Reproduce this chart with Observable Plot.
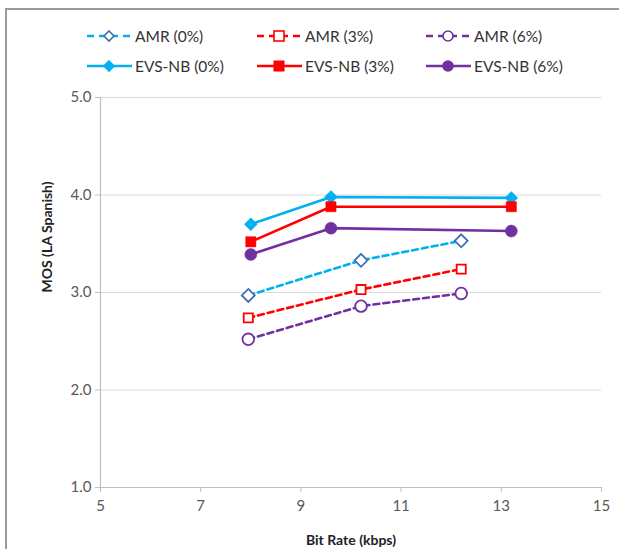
<!DOCTYPE html>
<html><head><meta charset="utf-8">
<script src="https://cdn.jsdelivr.net/npm/d3@7"></script>
<script src="https://cdn.jsdelivr.net/npm/@observablehq/plot@0.6"></script>
<style>
html,body{margin:0;padding:0;background:#fff;}
body{width:619px;height:549px;position:relative;overflow:hidden;font-family:Lato,"Open Sans",sans-serif;}
#frame{position:absolute;left:5px;top:8px;width:700px;height:700px;border-top:2px solid #9a9a9a;border-left:2px solid #9a9a9a;pointer-events:none;}
#legend{position:relative;height:85px;}
.item{position:absolute;display:flex;align-items:center;font-size:15.5px;color:#333;white-space:nowrap;}
.item svg{margin-right:2px;flex:none;}
#chart{display:block;}
</style></head>
<body>
<div id="frame"></div>
<div id="legend"></div>
<div id="chart"></div>
<script>
const amrRates = [7.95, 10.2, 12.2];
const evsRates = [8.0, 9.6, 13.2];
const amr0 = [2.97, 3.33, 3.53];
const amr3 = [2.74, 3.03, 3.24];
const amr6 = [2.52, 2.86, 2.99];
const evs0 = [3.70, 3.98, 3.97];
const evs3 = [3.52, 3.88, 3.88];
const evs6 = [3.39, 3.66, 3.63];
const seriesNames = ["AMR (0%)", "AMR (3%)", "AMR (6%)", "EVS-NB (0%)", "EVS-NB (3%)", "EVS-NB (6%)"];
const xTicks = [5, 7, 9, 11, 13, 15];
const yTicks = [1, 2, 3, 4, 5];

const blue = "#00b0f0", red = "#ff0000", purple = "#7030a0", dblue = "#3d6fb6";
const styles = [
  {rates: amrRates, vals: amr0, color: blue, mstroke: dblue, fill: "white", symbol: "diamond2", r: 5.8, dash: "6,4"},
  {rates: amrRates, vals: amr3, color: red, mstroke: red, fill: "white", symbol: "square2", r: 5.8, dash: "6,4"},
  {rates: amrRates, vals: amr6, color: purple, mstroke: purple, fill: "white", symbol: "circle", r: 5.8, dash: "6,4"},
  {rates: evsRates, vals: evs0, color: blue, mstroke: blue, fill: blue, symbol: "diamond2", r: 5.8, dash: null},
  {rates: evsRates, vals: evs3, color: red, mstroke: red, fill: red, symbol: "square2", r: 6.5, dash: null},
  {rates: evsRates, vals: evs6, color: purple, mstroke: purple, fill: purple, symbol: "circle", r: 6.0, dash: null}
];

// Legend (HTML)
const legend = document.getElementById("legend");
const legPos = [[86,25],[256,25],[425,25],[86,55],[256,55],[425,55]];
seriesNames.forEach((name, i) => {
  const s = styles[i];
  const div = document.createElement("div");
  div.className = "item";
  div.style.left = legPos[i][0] + "px";
  div.style.top = legPos[i][1] + "px";
  let marker;
  if (s.symbol === "circle") marker = `<circle cx="23" cy="11" r="5" fill="${s.fill}" stroke="${s.mstroke}" stroke-width="1.6"/>`;
  else if (s.symbol === "square2") marker = s.dash ? `<rect x="18" y="6" width="10" height="10" fill="white" stroke="${red}" stroke-width="1.6"/>` : `<rect x="17.5" y="5.5" width="11" height="11" fill="${red}"/>`;
  else marker = `<path d="M23,6 L28,11 L23,16 L18,11 Z" fill="${s.fill}" stroke="${s.mstroke}" stroke-width="1.6"/>`;
  div.innerHTML = `<svg width="47" height="22"><line x1="1" y1="11" x2="46" y2="11" stroke="${s.color}" stroke-width="2.5" ${s.dash ? 'stroke-dasharray="7,5"' : ''}/>${marker}</svg><span>${name}</span>`;
  legend.appendChild(div);
});

// Data table
const rows = [];
styles.forEach((s, i) => s.vals.forEach((v, j) => rows.push({series: seriesNames[i], idx: i, rate: s.rates[j], mos: v})));

const marks = [
  Plot.ruleY(yTicks, {stroke: "#d9d9d9", strokeWidth: 1.2}),
  Plot.ruleX([5], {stroke: "#bfbfbf", strokeWidth: 1.2}),
  Plot.ruleY([1], {stroke: "#bfbfbf", strokeWidth: 1.2}),
  Plot.axisX({ticks: xTicks, tickFormat: d => String(d), tickSize: 5, stroke: "#bfbfbf", tickPadding: 8, fontSize: 15, fill: "#595959", label: null}),
  Plot.axisY({ticks: yTicks, tickFormat: d => d.toFixed(1), tickSize: 5, stroke: "#bfbfbf", tickPadding: 4, fontSize: 15, fill: "#595959", label: null}),
  Plot.text(["Bit Rate (kbps)"], {frameAnchor: "bottom", dy: 57, fontWeight: "bold", fontSize: 14, fill: "#222"}),
  Plot.text(["MOS (LA Spanish)"], {frameAnchor: "left", dx: -53, rotate: -90, fontWeight: "bold", fontSize: 14, fill: "#222"})
];
styles.forEach((s, i) => {
  const data = rows.filter(d => d.idx === i);
  marks.push(Plot.line(data, {x: "rate", y: "mos", stroke: s.color, strokeWidth: 2.6, strokeDasharray: s.dash || undefined}));
});
styles.forEach((s, i) => {
  const data = rows.filter(d => d.idx === i);
  marks.push(Plot.dot(data, {x: "rate", y: "mos", symbol: () => s.symbol, r: s.r, fill: s.fill, stroke: s.mstroke, strokeWidth: s.dash ? 1.8 : 0.5}));
});

const chart = Plot.plot({
  width: 619,
  height: 464,
  marginLeft: 100,
  marginRight: 18,
  marginTop: 12,
  marginBottom: 62,
  style: {fontFamily: "Lato, 'Open Sans', sans-serif", background: "transparent", fontSize: "15px"},
  x: {domain: [5, 15]},
  y: {domain: [1, 5]},
  symbol: {type: "identity"},
  marks
});
document.getElementById("chart").appendChild(chart);
</script>
</body></html>
